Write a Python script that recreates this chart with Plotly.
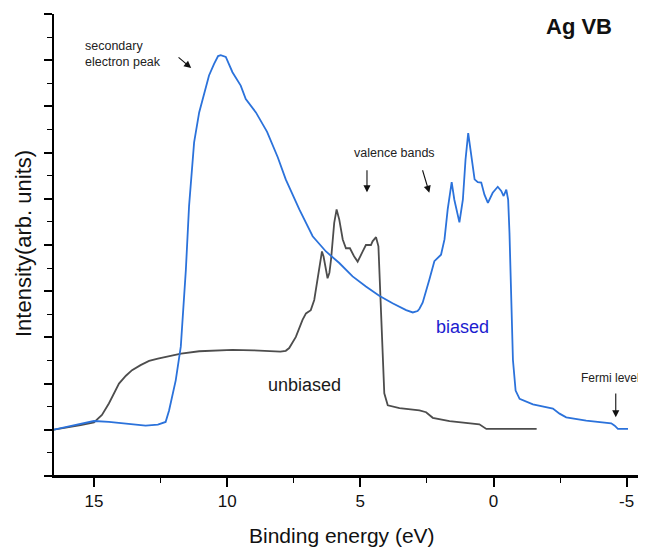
import plotly.graph_objects as go

# ---- data (binding energy in eV, intensity in arb. units) ----
unbiased_energy = [16.54, 16.0, 15.5, 15.0, 14.7, 14.44, 14.2, 14.06, 13.8, 13.57, 13.25, 12.93,
                   12.6, 12.29, 11.73, 11.05, 10.41, 9.8, 9.0, 8.5, 8.0, 7.8, 7.67, 7.42, 7.17,
                   7.04, 6.86, 6.73, 6.6, 6.5, 6.44, 6.38, 6.32, 6.23, 6.16, 6.1, 5.98, 5.89,
                   5.79, 5.66, 5.54, 5.39, 5.23, 5.1, 4.91, 4.79, 4.6, 4.54, 4.41, 4.32, 4.22,
                   4.16, 4.10, 3.97, 3.53, 2.78, 2.53, 2.28, 1.65, 0.53, 0.27, -1.62]
unbiased_intensity = [0.0, 0.05, 0.10, 0.16, 0.32, 0.57, 0.85, 1.0, 1.17, 1.29, 1.40, 1.49,
                      1.54, 1.58, 1.65, 1.70, 1.72, 1.73, 1.72, 1.71, 1.69, 1.71, 1.77, 2.01, 2.38,
                      2.52, 2.59, 2.81, 3.25, 3.65, 3.86, 3.75, 3.53, 3.28, 3.40, 3.68, 4.48, 4.77,
                      4.55, 4.12, 3.93, 3.93, 3.75, 3.64, 3.86, 4.0, 4.0, 4.08, 4.17, 3.97, 2.52,
                      1.44, 0.79, 0.53, 0.47, 0.42, 0.38, 0.26, 0.19, 0.12, 0.02, 0.02]

biased_energy = [16.54, 16.0, 15.5, 15.0, 14.44, 14.0, 13.56, 13.06, 12.6, 12.31, 12.18, 11.93,
                 11.74, 11.55, 11.43, 11.24, 11.05, 10.86, 10.68, 10.49, 10.34, 10.24, 10.05, 9.8,
                 9.49, 9.3, 8.92, 8.5, 8.1, 7.8, 7.29, 6.79, 6.29, 5.79, 5.29, 4.79, 4.29, 3.79,
                 3.28, 3.03, 2.85, 2.78, 2.66, 2.41, 2.22, 1.97, 1.84, 1.72, 1.57, 1.47, 1.28,
                 1.15, 1.05, 0.95, 0.84, 0.71, 0.59, 0.46, 0.34, 0.21, 0.03, -0.16, -0.29, -0.38,
                 -0.48, -0.55, -0.60, -0.66, -0.73, -0.83, -0.98, -1.48, -2.23, -2.48, -2.73,
                 -3.48, -4.42, -4.55, -4.67, -5.05]
biased_intensity = [0.0, 0.07, 0.13, 0.19, 0.17, 0.14, 0.12, 0.09, 0.11, 0.17, 0.42, 1.07,
                    1.8, 3.46, 4.84, 6.22, 6.87, 7.30, 7.67, 7.92, 8.09, 8.11, 8.07, 7.74,
                    7.45, 7.16, 6.87, 6.45, 5.9, 5.42, 4.77, 4.19, 3.86, 3.61, 3.32, 3.10, 2.90, 2.74,
                    2.59, 2.54, 2.57, 2.62, 2.75, 3.25, 3.65, 3.79, 4.12, 4.77, 5.36, 4.98, 4.49,
                    4.98, 5.85, 6.42, 6.0, 5.42, 5.36, 5.35, 5.09, 4.91, 5.13, 5.26, 5.17, 5.06,
                    5.20, 4.98, 4.26, 2.81, 1.51, 0.85, 0.67, 0.55, 0.46, 0.35, 0.27,
                    0.20, 0.14, 0.09, 0.02, 0.02]

x_tick_values = [15, 10, 5, 0, -5]
x_tick_labels = ["15", "10", "5", "0", "-5"]

FONT = "Liberation Sans, Arial, sans-serif"

# page body has an 8px margin; figure placed so the plot area lands where the reference has it
W, H = 638, 539
L, R, T, B = 46, 6, 6, 71
PW, PH = W - L - R, H - T - B

fig = go.Figure()
fig.add_trace(go.Scatter(x=unbiased_energy, y=unbiased_intensity, mode="lines",
                         line=dict(color="#4d4d4d", width=1.8), name="unbiased",
                         showlegend=False))
fig.add_trace(go.Scatter(x=biased_energy, y=biased_intensity, mode="lines",
                         line=dict(color="#2b72db", width=1.8), name="biased",
                         showlegend=False))

annotations = [
    dict(x=-3.22, y=8.73, text="<b>Ag VB</b>", showarrow=False,
         xanchor="center", yanchor="middle",
         font=dict(size=22, color="#111111", family=FONT)),
    dict(x=15.41, y=8.14, text="secondary<br>electron peak", showarrow=False,
         xanchor="left", yanchor="middle", align="left",
         font=dict(size=12.5, color="#222222", family=FONT)),
    dict(x=3.72, y=5.99, text="valence bands", showarrow=False,
         xanchor="center", yanchor="middle",
         font=dict(size=12.5, color="#222222", family=FONT)),
    dict(x=-4.40, y=1.13, text="Fermi level", showarrow=False,
         xanchor="center", yanchor="middle",
         font=dict(size=12, color="#222222", family=FONT)),
    dict(x=1.17, y=2.23, text="biased", showarrow=False,
         xanchor="center", yanchor="middle",
         font=dict(size=18, color="#1c1ccf", family=FONT)),
    dict(x=7.09, y=0.98, text="unbiased", showarrow=False,
         xanchor="center", yanchor="middle",
         font=dict(size=18, color="#1a1a1a", family=FONT)),
]
arrows = [
    (11.88, 8.09, 11.35, 7.83),
    (4.75, 5.65, 4.75, 5.14),
    (2.68, 5.65, 2.41, 5.13),
    (-4.59, 0.82, -4.59, 0.27),
]
for ax0, ay0, hx, hy in arrows:
    annotations.append(dict(x=hx, y=hy, ax=ax0, ay=ay0, xref="x", yref="y",
                            axref="x", ayref="y", text="", showarrow=True,
                            arrowhead=2, arrowsize=1.3, arrowwidth=1.1,
                            arrowcolor="#111111"))

# axis titles (window px -> paper coords; window = figure + 8px page margin)
annotations.append(dict(xref="paper", yref="paper", x=(342 - 54) / PW, y=-(535 - 476) / PH,
                        xanchor="center", yanchor="middle",
                        text="Binding energy (eV)", showarrow=False,
                        font=dict(size=21, color="#111111", family=FONT)))
annotations.append(dict(xref="paper", yref="paper", x=-(54 - 23) / PW, y=(476 - 244) / PH,
                        xanchor="center", yanchor="middle",
                        text="Intensity(arb. units)", showarrow=False, textangle=-90,
                        font=dict(size=22, color="#111111", family=FONT)))

fig.update_layout(
    width=W, height=H,
    margin=dict(l=L, r=R, t=T, b=B),
    paper_bgcolor="white", plot_bgcolor="white",
    annotations=annotations,
    shapes=[dict(type="line", xref="paper", yref="paper", x0=-8 / PW, x1=1, y0=0, y1=0,
                 line=dict(color="black", width=1.8))],
)
fig.update_xaxes(range=[16.5, -5.5], showgrid=False, zeroline=False,
                 showline=True, linecolor="black", linewidth=1.8,
                 ticks="outside", ticklen=9, tickwidth=1.5, tickcolor="black",
                 tickvals=x_tick_values, ticktext=x_tick_labels,
                 tickfont=dict(size=17, color="#111111", family=FONT),
                 minor=dict(dtick=2.5, tick0=0, ticks="outside", ticklen=5, tickwidth=1.2,
                            tickcolor="black"))
fig.update_yaxes(range=[-1, 9], showgrid=False, zeroline=False,
                 showline=True, linecolor="black", linewidth=1.8,
                 ticks="outside", ticklen=8, tickwidth=1.5, tickcolor="black",
                 dtick=1, tick0=0, showticklabels=False,
                 minor=dict(dtick=0.5, tick0=0, ticks="outside", ticklen=5, tickwidth=1.2,
                            tickcolor="black"))

fig.write_html("out.html")
